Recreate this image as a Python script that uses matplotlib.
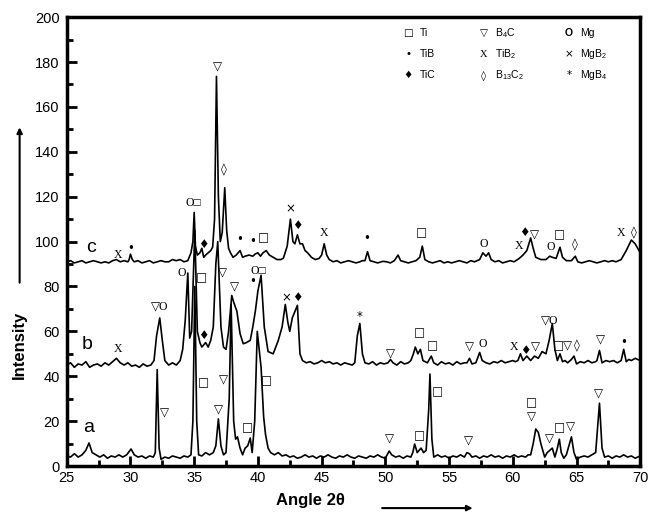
import numpy as np
import matplotlib
matplotlib.use("Agg")
import matplotlib.pyplot as plt
from matplotlib.ticker import MultipleLocator

plt.rcParams['font.family'] = ['Liberation Sans', 'DejaVu Sans']
plt.rcParams['mathtext.fontset'] = 'custom'
plt.rcParams['mathtext.rm'] = 'Liberation Sans'

# ---- data: (2theta, intensity) ----
trace_a = [
    (25.0, 4.5), (25.3, 4), (25.6, 5.5), (25.9, 4), (26.2, 5), (26.5, 7), (26.75, 10.3),
    (27.0, 6), (27.3, 5), (27.6, 4), (27.9, 5), (28.2, 3.5), (28.5, 4.5), (28.8, 4),
    (29.1, 5), (29.4, 4), (29.7, 5), (30.05, 7.6), (30.3, 5), (30.6, 4), (30.9, 4.5),
    (31.2, 3.5), (31.5, 4.5), (31.8, 4), (31.95, 6), (32.1, 43), (32.25, 8), (32.4, 3),
    (32.7, 4), (33.0, 3.5), (33.3, 4.5), (33.6, 4), (33.9, 3.5), (34.2, 4.5), (34.5, 4),
    (34.75, 5), (34.9, 20), (35.05, 80), (35.2, 20), (35.35, 5), (35.6, 4.5), (35.9, 6),
    (36.2, 5), (36.5, 6), (36.7, 9), (36.9, 21), (37.1, 9), (37.3, 5), (37.5, 6),
    (37.75, 30), (37.9, 72), (38.1, 20), (38.25, 12), (38.4, 13), (38.6, 8), (38.8, 5),
    (39.0, 8), (39.2, 9), (39.4, 12.5), (39.55, 6), (39.75, 20), (39.95, 60), (40.1, 52),
    (40.25, 44), (40.45, 22), (40.6, 14), (40.8, 8), (41.0, 6), (41.3, 5), (41.6, 6),
    (41.9, 4.5), (42.2, 5), (42.5, 4), (42.8, 4.5), (43.1, 3.5), (43.4, 4), (43.7, 5),
    (44.0, 4), (44.3, 4.5), (44.6, 3.5), (44.9, 4.5), (45.2, 4), (45.5, 5), (45.8, 4),
    (46.1, 3.5), (46.4, 4.5), (46.7, 4), (47.0, 5), (47.3, 4), (47.6, 3.5), (47.9, 4.5),
    (48.2, 4), (48.5, 3.5), (48.8, 4.5), (49.1, 4), (49.4, 5), (49.7, 4), (50.0, 3.5),
    (50.3, 6.7), (50.5, 5), (50.8, 4), (51.1, 4.5), (51.4, 3.5), (51.7, 4.5), (52.0, 4),
    (52.15, 6), (52.3, 9.8), (52.5, 6), (52.8, 8), (53.0, 6), (53.2, 7), (53.4, 25),
    (53.5, 41), (53.65, 12), (53.8, 4), (54.1, 5), (54.4, 4), (54.7, 4.5), (55.0, 3.5),
    (55.3, 4.5), (55.6, 4), (55.9, 5), (56.2, 4), (56.4, 6), (56.6, 5.5), (56.8, 4),
    (57.1, 4.5), (57.4, 3.5), (57.7, 4.5), (58.0, 4), (58.3, 5), (58.6, 4), (58.9, 4.5),
    (59.2, 3.5), (59.5, 4.5), (59.8, 4), (60.1, 5), (60.4, 4), (60.7, 4.5), (61.0, 4),
    (61.2, 5), (61.4, 5), (61.6, 10), (61.8, 16.5), (62.0, 15), (62.2, 10), (62.5, 4),
    (62.7, 6), (62.9, 7), (63.1, 8), (63.3, 4), (63.5, 8), (63.65, 12), (63.8, 6),
    (64.0, 3.5), (64.2, 5), (64.4, 9), (64.6, 13), (64.8, 6), (65.0, 3), (65.3, 4),
    (65.6, 4.5), (65.9, 4), (66.2, 5), (66.5, 6), (66.8, 28), (67.0, 8), (67.2, 4),
    (67.5, 4.5), (67.8, 3.5), (68.1, 4.5), (68.4, 4), (68.7, 5), (69.0, 4), (69.3, 4.5),
    (69.6, 3.5), (70.0, 4.5),
]

trace_b = [
    (25.0, 45), (25.3, 46), (25.6, 44), (25.9, 45.5), (26.2, 45), (26.5, 46.5), (26.8, 44),
    (27.1, 45), (27.4, 45.5), (27.7, 44.5), (28.0, 46), (28.3, 45), (28.6, 46.5), (28.9, 48),
    (29.2, 46), (29.5, 45), (29.8, 46), (30.1, 44.5), (30.4, 45), (30.7, 44), (31.0, 45.5),
    (31.3, 44.5), (31.6, 45), (31.85, 47), (32.05, 58), (32.3, 66), (32.5, 56), (32.7, 47),
    (33.0, 45), (33.3, 46), (33.6, 45), (33.9, 47), (34.1, 52), (34.3, 65), (34.5, 86),
    (34.65, 57), (34.8, 60), (35.05, 105), (35.25, 60), (35.45, 55), (35.6, 53), (35.75, 54),
    (35.9, 55), (36.1, 53), (36.3, 56), (36.5, 62), (36.7, 90), (36.85, 100), (37.1, 62),
    (37.3, 53), (37.5, 52), (37.7, 60), (37.95, 76), (38.1, 73), (38.35, 69), (38.6, 59),
    (38.85, 54.5), (39.1, 55), (39.4, 56), (39.6, 62), (39.8, 69), (40.0, 78), (40.25, 85),
    (40.5, 62), (40.8, 51), (41.2, 50), (41.6, 56), (41.9, 62), (42.15, 72), (42.35, 64),
    (42.5, 60), (42.7, 66), (43.1, 71.6), (43.3, 50), (43.5, 47), (43.8, 46), (44.1, 46.5),
    (44.4, 45.5), (44.7, 46), (45.0, 47), (45.3, 46), (45.6, 46.5), (45.9, 45.5), (46.2, 46),
    (46.5, 45), (46.8, 46), (47.1, 45.5), (47.4, 45), (47.6, 46), (47.8, 58), (48.0, 63.5),
    (48.2, 50), (48.4, 46), (48.7, 45.5), (49.0, 46.5), (49.3, 45), (49.6, 46), (49.9, 45.5),
    (50.2, 46), (50.4, 47.5), (50.6, 46), (50.9, 45), (51.2, 46.5), (51.5, 45.5), (51.8, 46),
    (52.0, 47), (52.2, 50), (52.35, 53), (52.55, 50), (52.75, 52), (52.95, 47), (53.3, 46),
    (53.6, 49), (53.8, 46), (54.1, 45), (54.4, 46.5), (54.7, 45.5), (55.0, 46), (55.3, 45),
    (55.6, 46.5), (55.9, 45.5), (56.2, 46), (56.4, 46), (56.6, 48), (56.8, 45.5), (57.1, 46),
    (57.4, 50.6), (57.6, 47), (57.9, 46), (58.2, 45.5), (58.5, 46.5), (58.8, 46), (59.1, 47),
    (59.4, 46), (59.7, 46.5), (60.0, 47), (60.2, 46.5), (60.4, 47), (60.6, 50), (60.8, 47),
    (61.1, 49), (61.4, 47), (61.7, 49), (62.0, 48), (62.3, 51), (62.6, 50), (62.85, 56),
    (63.1, 63.5), (63.3, 52), (63.5, 47), (63.7, 50), (63.9, 46.5), (64.1, 47), (64.3, 46),
    (64.6, 47.5), (64.8, 49), (65.0, 45.5), (65.3, 46.5), (65.6, 46), (65.9, 47), (66.2, 46),
    (66.5, 46.5), (66.6, 47), (66.8, 51.5), (67.0, 46), (67.3, 47), (67.6, 46.5), (67.9, 47),
    (68.2, 46), (68.5, 47), (68.7, 52), (68.9, 46.5), (69.1, 47.5), (69.3, 47), (69.6, 48),
    (70.0, 47),
]

trace_c = [
    (25.0, 91), (25.3, 91.5), (25.6, 90.5), (25.9, 91), (26.2, 91.5), (26.5, 90.5), (26.8, 91),
    (27.1, 91.5), (27.4, 91), (27.7, 90.5), (28.0, 91), (28.3, 90.5), (28.6, 91.5), (28.9, 92),
    (29.2, 91), (29.5, 91.5), (29.8, 91), (29.9, 92), (30.0, 94.4), (30.15, 92), (30.3, 91),
    (30.6, 91.5), (30.9, 90.5), (31.2, 91), (31.5, 91.5), (31.8, 90.5), (32.1, 91),
    (32.4, 91.5), (32.7, 91), (33.0, 91), (33.3, 92), (33.6, 91.5), (33.9, 92), (34.2, 91),
    (34.5, 91.5), (34.75, 95), (34.9, 100), (35.0, 113), (35.1, 98), (35.25, 94), (35.45, 95),
    (35.6, 97), (35.75, 93), (35.9, 94), (36.1, 95), (36.3, 96), (36.45, 97.5), (36.6, 110),
    (36.75, 173.6), (36.9, 120), (37.05, 100), (37.2, 104), (37.4, 124), (37.55, 105),
    (37.7, 97), (37.85, 95), (38.05, 93), (38.3, 94), (38.6, 96), (38.8, 93), (39.0, 93.5),
    (39.3, 94), (39.6, 93.5), (39.8, 94.5), (40.0, 95), (40.2, 93.5), (40.4, 95), (40.65, 96),
    (40.9, 94), (41.2, 93), (41.5, 92), (41.8, 92), (42.0, 92.6), (42.3, 98), (42.55, 110),
    (42.75, 100), (42.9, 99), (43.1, 103), (43.3, 99), (43.5, 99), (43.7, 96), (43.9, 95),
    (44.2, 93), (44.5, 92), (44.8, 92.5), (45.0, 94), (45.2, 99), (45.4, 94), (45.6, 92),
    (45.9, 91), (46.2, 91.5), (46.5, 90.5), (46.8, 91), (47.1, 91.5), (47.4, 91), (47.7, 90.5),
    (48.0, 91), (48.2, 91.5), (48.4, 91.5), (48.6, 95.5), (48.8, 91.5), (49.1, 91),
    (49.4, 90.5), (49.8, 91.2), (50.1, 91), (50.4, 90.5), (50.7, 91.5), (51.0, 94),
    (51.2, 91.5), (51.5, 91), (51.8, 90.5), (52.1, 91), (52.4, 91.5), (52.7, 93), (52.9, 98),
    (53.1, 92), (53.4, 91), (53.7, 90.5), (54.0, 91), (54.3, 91.5), (54.6, 90.5), (54.9, 91),
    (55.2, 90.5), (55.5, 91), (55.8, 91.5), (56.1, 91), (56.4, 90.5), (56.7, 91.5),
    (57.0, 91), (57.4, 92), (57.65, 95), (57.9, 93.5), (58.1, 95), (58.3, 92), (58.6, 91),
    (58.9, 91.5), (59.2, 90.5), (59.5, 91), (59.8, 91.5), (60.1, 91), (60.5, 92.5),
    (60.8, 94), (61.1, 96), (61.4, 101.6), (61.6, 97), (61.8, 93), (62.2, 92), (62.6, 92),
    (62.9, 93.5), (63.1, 93), (63.4, 92.5), (63.7, 97.5), (63.9, 93), (64.2, 91.5),
    (64.6, 91.5), (64.9, 93.5), (65.1, 91), (65.4, 90.5), (65.7, 91), (66.0, 91.5),
    (66.3, 91), (66.6, 90.5), (66.9, 91), (67.2, 91.5), (67.5, 91), (67.8, 91.5), (68.1, 91),
    (68.5, 92), (68.9, 96), (69.3, 100.7), (69.6, 99), (70.0, 95),
]

# phase markers: (2theta, intensity, symbol)
marks_c = [
    (29.0, 94, 'X'), (30.0, 97, '•'), (34.95, 117, 'O□'), (35.7, 98.5, '♦'),
    (36.8, 177.6, '▽'), (37.3, 132, '◊'), (38.6, 101, '•'), (39.6, 100, '•'),
    (40.4, 101.6, '□'), (42.55, 114.5, '×'), (43.1, 107, '♦'), (45.15, 104, 'X'),
    (48.55, 101.6, '•'), (52.8, 103.8, '□'), (57.7, 99, 'O'), (60.5, 98, 'X'),
    (60.9, 104, '♦'), (61.7, 103, '▽'), (63.0, 97.5, 'O'), (63.7, 103, '□'),
    (64.9, 98.4, '◊'), (68.5, 104, 'X'), (69.5, 104, '◊'),
]
marks_b = [
    (29.0, 52, 'X'), (32.3, 71, '▽O'), (34.0, 86, 'O'), (35.6, 84, '□'), (35.75, 58, '♦'),
    (37.25, 86, '▽'), (38.2, 80, '▽'), (39.6, 82, '•'), (40.0, 87, 'O□'), (42.2, 75, '×'),
    (43.1, 75, '♦'), (48.0, 66.6, '*'), (50.4, 50, '▽'), (52.7, 59.5, '□'), (53.7, 53.7, '□'),
    (56.6, 53, '▽'), (57.65, 54.6, 'O'), (60.1, 53, 'X'), (60.95, 51.5, '♦'), (61.75, 53, '▽'),
    (62.9, 65, '▽O'), (63.55, 53.7, '□'), (64.3, 53.7, '▽'), (65.05, 53.7, '◊'),
    (66.9, 56, '▽'), (68.7, 55, '•'),
]
marks_a = [
    (32.7, 23.7, '▽'), (35.7, 37, '□'), (36.9, 25, '▽'), (37.3, 38.5, '▽'), (39.2, 17, '□'),
    (40.7, 38, '□'), (50.3, 12, '▽'), (52.7, 13.4, '□'), (54.1, 33, '□'), (56.5, 11, '▽'),
    (61.5, 22, '▽'), (61.5, 28, '□'), (62.9, 12, '▽'), (63.65, 17, '□'), (64.5, 17.5, '▽'),
    (66.7, 32, '▽'),
]
trace_labels = [(26.7, 17, 'a'), (26.6, 54, 'b'), (26.9, 97.5, 'c')]

legend_syms = ['□', '▽', 'O', '•', 'X', '×', '♦', '◊', '*']
legend_names = ['Ti', r'B$_4$C', 'Mg', 'TiB', r'TiB$_2$', r'MgB$_2$', 'TiC',
                r'B$_{13}$C$_2$', r'MgB$_4$']

fig = plt.figure(figsize=(6.54, 5.19), dpi=100)
ax = fig.add_axes([0.102, 0.102, 0.877, 0.865])

for tr in (trace_a, trace_b, trace_c):
    xy = np.array(tr)
    ax.plot(xy[:, 0], xy[:, 1], color='black', lw=1.2)


def sym_font(s):
    if s in ('X', 'O', 'O□', '▽O'):
        return ['Liberation Serif', 'DejaVu Sans']
    return ['DejaVu Sans']


for marks in (marks_a, marks_b, marks_c):
    for x, y, s in marks:
        ax.text(x, y, s, ha='center', va='center', fontsize=8.5, family=sym_font(s))

for x, y, s in trace_labels:
    ax.text(x, y, s, ha='center', va='center', fontsize=14)

# legend block in the upper right
col_x = [51.8, 57.7, 64.4]
row_y = [193, 183.5, 174]
for i, (s, name) in enumerate(zip(legend_syms, legend_names)):
    r, c = divmod(i, 3)
    if s == 'O':
        ax.text(col_x[c], row_y[r], s, ha='center', va='center', fontsize=7.5,
                fontweight='bold')
    else:
        ax.text(col_x[c], row_y[r], s, ha='center', va='center', fontsize=7.5,
                family=sym_font(s))
    ax.text(col_x[c] + 0.9, row_y[r], name, ha='left', va='center', fontsize=7.5)

ax.set_xlim(25, 70)
ax.set_ylim(0, 200)
ax.xaxis.set_major_locator(MultipleLocator(5))
ax.xaxis.set_minor_locator(MultipleLocator(2.5))
ax.yaxis.set_major_locator(MultipleLocator(20))
ax.yaxis.set_minor_locator(MultipleLocator(10))
ax.tick_params(which='both', direction='in', top=False, right=False, labelsize=10.5, width=2)
ax.tick_params(which='major', length=7)
ax.tick_params(which='minor', length=4)
ax.tick_params(axis='y', pad=5)
for sp in ax.spines.values():
    sp.set_linewidth(2.5)

fig.text(0.475, 0.022, 'Angle 2θ', ha='center', va='bottom', fontsize=12, fontweight='bold')
ax.annotate('', xy=(0.727, 0.021), xytext=(0.58, 0.021), xycoords='figure fraction',
            arrowprops=dict(arrowstyle='-|>', color='black', lw=1.5, mutation_scale=8))
fig.text(0.03, 0.335, 'Intensity', rotation=90, ha='center', va='center', fontsize=12,
         fontweight='bold')
ax.annotate('', xy=(0.03, 0.76), xytext=(0.03, 0.45), xycoords='figure fraction',
            arrowprops=dict(arrowstyle='-|>', color='black', lw=1.5, mutation_scale=8))

fig.savefig('out.png', dpi=100)
